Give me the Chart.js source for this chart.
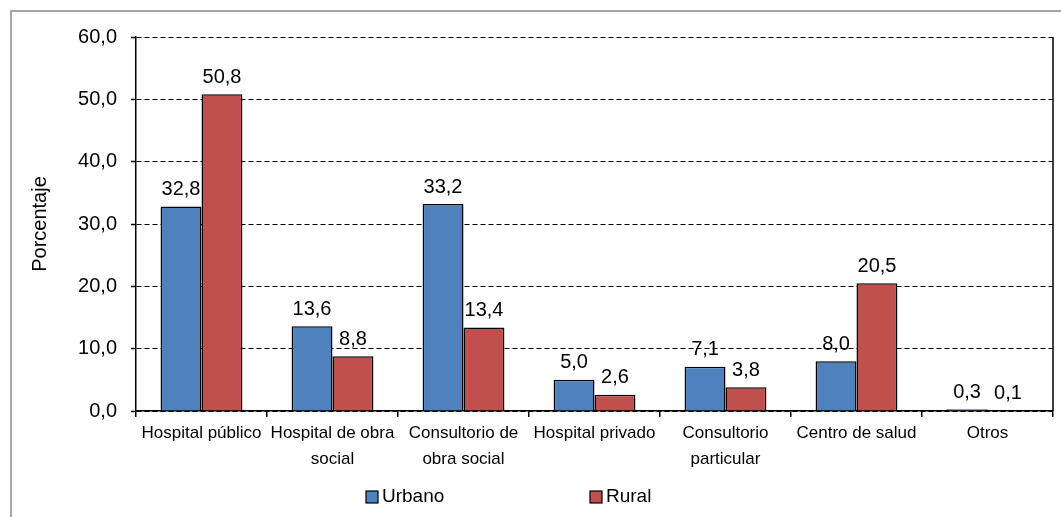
<!DOCTYPE html>
<html>
<head>
<meta charset="utf-8">
<script src="https://cdn.jsdelivr.net/npm/chart.js@4"></script>
<style>
  html, body { margin: 0; padding: 0; background: #fff; }
  #wrap { position: relative; width: 1061px; height: 517px; overflow: hidden; }
  #frame { position: absolute; left: 10px; top: 10px; width: 1100px; height: 600px;
           border-top: 2px solid #a6a6a6; border-left: 2px solid #a6a6a6; }
  #c { position: absolute; left: 0; top: 0; }
</style>
</head>
<body>
<div id="wrap">
  <div id="frame"></div>
  <canvas id="c" width="1061" height="517"></canvas>
</div>
<script>
const categories = [
  "Hospital público",
  ["Hospital de obra", "social"],
  ["Consultorio de", "obra social"],
  "Hospital privado",
  ["Consultorio", "particular"],
  "Centro de salud",
  "Otros"
];
const urbano = [32.8, 13.6, 33.2, 5.0, 7.1, 8.0, 0.3];
const rural  = [50.8, 8.8, 13.4, 2.6, 3.8, 20.5, 0.1];
const seriesNames = ["Urbano", "Rural"];
const yTicks = [0, 10, 20, 30, 40, 50, 60];
const axisTitle = "Porcentaje";

const FONT = "'Liberation Sans', Arial, sans-serif";
const fmt = v => v.toFixed(1).replace('.', ',');

const valueLabels = {
  id: 'valueLabels',
  afterDatasetsDraw(chart) {
    const ctx = chart.ctx;
    ctx.save();
    ctx.font = "20px " + FONT;
    ctx.fillStyle = '#000';
    ctx.textAlign = 'center';
    ctx.textBaseline = 'middle';
    chart.data.datasets.forEach((ds, di) => {
      chart.getDatasetMeta(di).data.forEach((bar, i) => {
        ctx.fillText(fmt(ds.data[i]), bar.x, bar.y - 17);
      });
    });
    ctx.restore();
  }
};

const rightBorder = {
  id: 'rightBorder',
  afterDraw(chart) {
    const {ctx, chartArea: a} = chart;
    ctx.save();
    ctx.strokeStyle = '#000';
    ctx.lineWidth = 1.5;
    ctx.beginPath();
    ctx.moveTo(a.right, a.top);
    ctx.lineTo(a.right, a.bottom);
    ctx.stroke();
    ctx.restore();
  }
};

const customLegend = {
  id: 'customLegend',
  afterDraw(chart) {
    const ctx = chart.ctx;
    const starts = [366, 590];
    const yMid = 497;
    ctx.save();
    ctx.font = "19px " + FONT;
    ctx.textBaseline = 'middle';
    ctx.textAlign = 'left';
    chart.data.datasets.forEach((ds, i) => {
      const x = starts[i];
      ctx.fillStyle = ds.backgroundColor;
      ctx.fillRect(x, yMid - 6, 12, 12);
      ctx.strokeStyle = '#000';
      ctx.lineWidth = 1.2;
      ctx.strokeRect(x, yMid - 6, 12, 12);
      ctx.fillStyle = '#000';
      ctx.fillText(ds.label, x + 16, yMid);
    });
    ctx.restore();
  }
};

new Chart(document.getElementById('c'), {
  type: 'bar',
  data: {
    labels: categories,
    datasets: [
      { label: seriesNames[0], data: urbano, backgroundColor: '#4F81BD', borderColor: '#000', borderWidth: 1.5,
        barPercentage: 1, categoryPercentage: 0.625 },
      { label: seriesNames[1], data: rural, backgroundColor: '#C0504D', borderColor: '#000', borderWidth: 1.5,
        barPercentage: 1, categoryPercentage: 0.625 }
    ]
  },
  options: {
    responsive: false,
    devicePixelRatio: 1,
    animation: false,
    layout: { padding: { left: 0, right: 8, top: 37, bottom: 46 } },
    plugins: {
      legend: { display: false },
      tooltip: { enabled: false }
    },
    scales: {
      x: {
        grid: { offset: true, drawOnChartArea: false, color: '#000', tickLength: 6, lineWidth: 1.5 },
        border: { display: true, color: '#000', width: 1.5 },
        ticks: { color: '#000', font: { family: FONT, size: 17, lineHeight: 1.5 }, padding: 4,
                 maxRotation: 0, minRotation: 0, autoSkip: false },
        afterFit(scale) { scale.height = 60; }
      },
      y: {
        min: 0, max: 60,
        afterBuildTicks(scale) { scale.ticks = yTicks.map(v => ({ value: v })); },
        grid: { color: '#000', lineWidth: 1, tickLength: 5, tickColor: '#000', tickWidth: 1.5 },
        border: { display: true, color: '#000', width: 1.5, dash: [5, 3] },
        ticks: { color: '#000', font: { family: FONT, size: 20 }, padding: 14,
                 callback: v => fmt(v) },
        title: { display: true, text: axisTitle, color: '#000', font: { family: FONT, size: 20 },
                 padding: { top: 28, bottom: 0 } },
        afterFit(scale) { scale.width = 136; }
      }
    }
  },
  plugins: [valueLabels, rightBorder, customLegend]
});
</script>
</body>
</html>
